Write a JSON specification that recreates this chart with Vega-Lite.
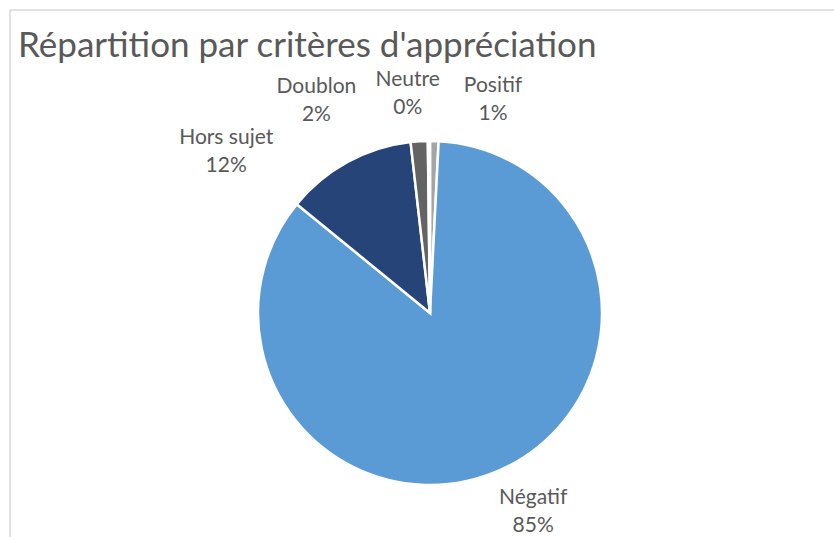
{
  "$schema": "https://vega.github.io/schema/vega-lite/v6.json",
  "autosize": "none",
  "padding": {"left": 10, "top": 10, "right": 0, "bottom": 0},
  "width": 840,
  "height": 606,
  "background": "white",
  "view": {"stroke": "#d9d9d9", "strokeWidth": 1.5},
  "config": {
    "view": {"stroke": "#d9d9d9", "strokeWidth": 1.5},
    "font": "Lato"
  },
  "title": {
    "text": "Répartition par critères d'appréciation",
    "anchor": "start",
    "frame": "group",
    "font": "Lato",
    "fontSize": 35,
    "fontWeight": "normal",
    "color": "#595959",
    "baseline": "alphabetic",
    "offset": -50,
    "dy": 32,
    "dx": 8
  },
  "data": {
    "values": [
      {"cat": "Positif", "ord": 1, "share": 0.008, "label": "Positif\n1%"},
      {"cat": "Négatif", "ord": 2, "share": 0.851, "label": "Négatif\n85%"},
      {"cat": "Hors sujet", "ord": 3, "share": 0.123, "label": "Hors sujet\n12%"},
      {"cat": "Doublon", "ord": 4, "share": 0.016, "label": "Doublon\n2%"},
      {"cat": "Neutre", "ord": 5, "share": 0.002, "label": "Neutre\n0%"}
    ]
  },
  "encoding": {
    "theta": {"field": "share", "type": "quantitative", "stack": true},
    "order": {"field": "ord", "type": "quantitative"}
  },
  "layer": [
    {
      "mark": {"type": "arc", "outerRadius": 172, "stroke": "white", "strokeWidth": 2.5},
      "encoding": {
        "color": {
          "field": "cat",
          "type": "nominal",
          "scale": {
            "domain": ["Positif", "Négatif", "Hors sujet", "Doublon", "Neutre"],
            "range": ["#a5a5a5", "#5b9bd5", "#264478", "#636363", "#9dc3e6"]
          },
          "legend": null
        }
      }
    },
    {
      "mark": {"type": "text", "radius": 200, "dx": 58, "dy": -27, "fontSize": 21, "color": "#595959", "lineBreak": "\n", "lineHeight": 28, "align": "center", "baseline": "middle"},
      "encoding": {"text": {"condition": {"test": "datum.cat === 'Positif'", "field": "label"}, "value": ""}}
    },
    {
      "mark": {"type": "text", "radius": 200, "dx": 22, "dy": 2, "fontSize": 21, "color": "#595959", "lineBreak": "\n", "lineHeight": 28, "align": "center", "baseline": "middle"},
      "encoding": {"text": {"condition": {"test": "datum.cat === 'Négatif'", "field": "label"}, "value": ""}}
    },
    {
      "mark": {"type": "text", "radius": 200, "dx": -108, "dy": 1, "fontSize": 21, "color": "#595959", "lineBreak": "\n", "lineHeight": 28, "align": "center", "baseline": "middle"},
      "encoding": {"text": {"condition": {"test": "datum.cat === 'Hors sujet'", "field": "label"}, "value": ""}}
    },
    {
      "mark": {"type": "text", "radius": 200, "dx": -101, "dy": -26, "fontSize": 21, "color": "#595959", "lineBreak": "\n", "lineHeight": 28, "align": "center", "baseline": "middle"},
      "encoding": {"text": {"condition": {"test": "datum.cat === 'Doublon'", "field": "label"}, "value": ""}}
    },
    {
      "mark": {"type": "text", "radius": 200, "dx": -21, "dy": -33, "fontSize": 21, "color": "#595959", "lineBreak": "\n", "lineHeight": 28, "align": "center", "baseline": "middle"},
      "encoding": {"text": {"condition": {"test": "datum.cat === 'Neutre'", "field": "label"}, "value": ""}}
    }
  ]
}
